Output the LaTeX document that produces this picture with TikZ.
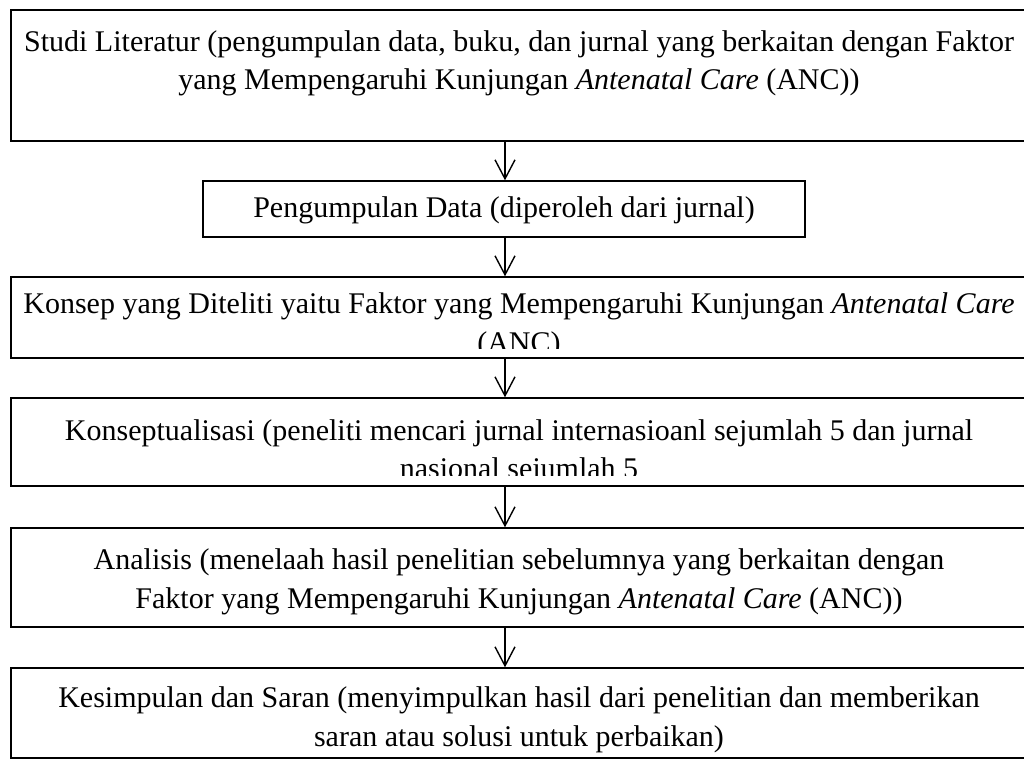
\documentclass[tikz,border=0pt]{standalone}
\usepackage{fontspec}
\setmainfont{Liberation Serif}
\usetikzlibrary{arrows.meta}
\begin{document}
\begin{tikzpicture}[x=1pt,y=-1pt,
  boxstyle/.style={draw, line width=1.4pt, inner sep=0pt, rectangle, minimum width=1016pt},
  linetext/.style={anchor=base, inner sep=0pt, font=\fontsize{30}{36}\selectfont},
  flow/.style={line width=1.4pt, -{Straight Barb[length=19pt,width=20pt,line width=1.4pt]}}]
\useasboundingbox (0,0) rectangle (1024,760);
% text lines
\node[linetext] (t1a) at (519,52) {Studi Literatur (pengumpulan data, buku, dan jurnal yang berkaitan dengan Faktor};
\node[linetext] (t1b) at (519,89) {yang Mempengaruhi Kunjungan \textit{Antenatal Care} (ANC))};
\node[linetext] (t2) at (504,217) {Pengumpulan Data (diperoleh dari jurnal)};
\node[linetext] (t3a) at (519,313) {Konsep yang Diteliti yaitu Faktor yang Mempengaruhi Kunjungan \textit{Antenatal Care}};
\begin{scope}
\clip (0,280) rectangle (1024,348);
\node[linetext] (t3b) at (519,352) {(ANC)};
\end{scope}
\node[linetext] (t4a) at (519,440) {Konseptualisasi (peneliti mencari jurnal internasioanl sejumlah 5 dan jurnal};
\begin{scope}
\clip (0,446) rectangle (1024,475);
\node[linetext] (t4b) at (519,478) {nasional sejumlah 5};
\end{scope}
\node[linetext] (t5a) at (519,569) {Analisis (menelaah hasil penelitian sebelumnya yang berkaitan dengan};
\node[linetext] (t5b) at (519,608) {Faktor yang Mempengaruhi Kunjungan \textit{Antenatal Care} (ANC))};
\node[linetext] (t6a) at (519,707) {Kesimpulan dan Saran (menyimpulkan hasil dari penelitian dan memberikan};
\node[linetext] (t6b) at (519,746) {saran atau solusi untuk perbaikan)};
% boxes
\node[boxstyle, minimum height=131pt] (b1) at (519,75.5) {};
\node[boxstyle, minimum width=602pt, minimum height=56pt] (b2) at (504,209) {};
\node[boxstyle, minimum height=81pt] (b3) at (519,317.5) {};
\node[boxstyle, minimum height=88pt] (b4) at (519,442) {};
\node[boxstyle, minimum height=99pt] (b5) at (519,577.5) {};
\node[boxstyle, minimum height=90pt] (b6) at (519,713) {};
% arrows
\coordinate (ax) at (505,0);
\draw[flow] (b1.south -| ax) -- (b2.north -| ax);
\draw[flow] (b2.south -| ax) -- (b3.north -| ax);
\draw[flow] (b3.south -| ax) -- (b4.north -| ax);
\draw[flow] (b4.south -| ax) -- (b5.north -| ax);
\draw[flow] (b5.south -| ax) -- (b6.north -| ax);
\end{tikzpicture}
\end{document}
